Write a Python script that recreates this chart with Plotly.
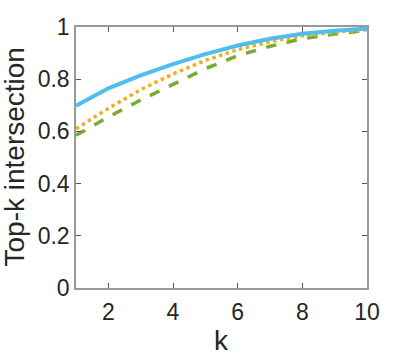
import plotly.graph_objects as go

k = [1, 2, 3, 4, 5, 6, 7, 8, 9, 10]
blue_vals = [0.698, 0.765, 0.815, 0.858, 0.896, 0.929, 0.955, 0.974, 0.986, 0.994]
orange_vals = [0.61, 0.688, 0.76, 0.82, 0.872, 0.913, 0.944, 0.966, 0.98, 0.99]
green_vals = [0.585, 0.655, 0.72, 0.78, 0.84, 0.89, 0.926, 0.955, 0.973, 0.987]

fig = go.Figure()
# green at the bottom, blue on top
fig.add_trace(go.Scatter(x=k, y=green_vals, mode="lines",
                         line=dict(color="#77AC30", width=3.5, dash="dash")))
fig.add_trace(go.Scatter(x=k, y=orange_vals, mode="lines",
                         line=dict(color="#EDB120", width=3.5, dash="dot")))
fig.add_trace(go.Scatter(x=k, y=blue_vals, mode="lines",
                         line=dict(color="#4DBEEE", width=4)))

axis_style = dict(
    showline=True, linecolor="#999999", linewidth=1.5, mirror="ticks",
    ticks="inside", ticklen=5, tickcolor="#555555", tickwidth=1,
    showgrid=False, zeroline=False, automargin=False,
    tickfont=dict(size=23, color="#262626"),
)

fig.update_xaxes(range=[1, 10], tickvals=[2, 4, 6, 8, 10], ticklabelstandoff=3,
                 **axis_style)
fig.update_yaxes(range=[0, 1], tickvals=[0, 0.2, 0.4, 0.6, 0.8, 1],
                 ticktext=["0", "0.2", "0.4", "0.6", "0.8", "1"],
                 **axis_style)

# axis titles as annotations so they can be placed exactly
title_font = dict(size=28, color="#262626")
fig.add_annotation(text="Top-k intersection", xref="paper", yref="paper",
                   x=0, y=0.5, textangle=-90, showarrow=False,
                   xanchor="center", yanchor="middle", xshift=-62,
                   font=title_font)
fig.add_annotation(text="k", xref="paper", yref="paper",
                   x=0.5, y=0, showarrow=False,
                   xanchor="center", yanchor="middle", yshift=-52,
                   font=title_font)

fig.update_layout(
    width=405, height=357,
    margin=dict(l=76, r=38, t=27, b=69),
    paper_bgcolor="white", plot_bgcolor="white",
    showlegend=False,
    font=dict(family="Liberation Sans, Arial, sans-serif"),
)

# drop the default 8px body margin so the figure fills the window
fig.write_html("out.html", config={"displayModeBar": False},
               post_script="document.body.style.margin = '0';")
